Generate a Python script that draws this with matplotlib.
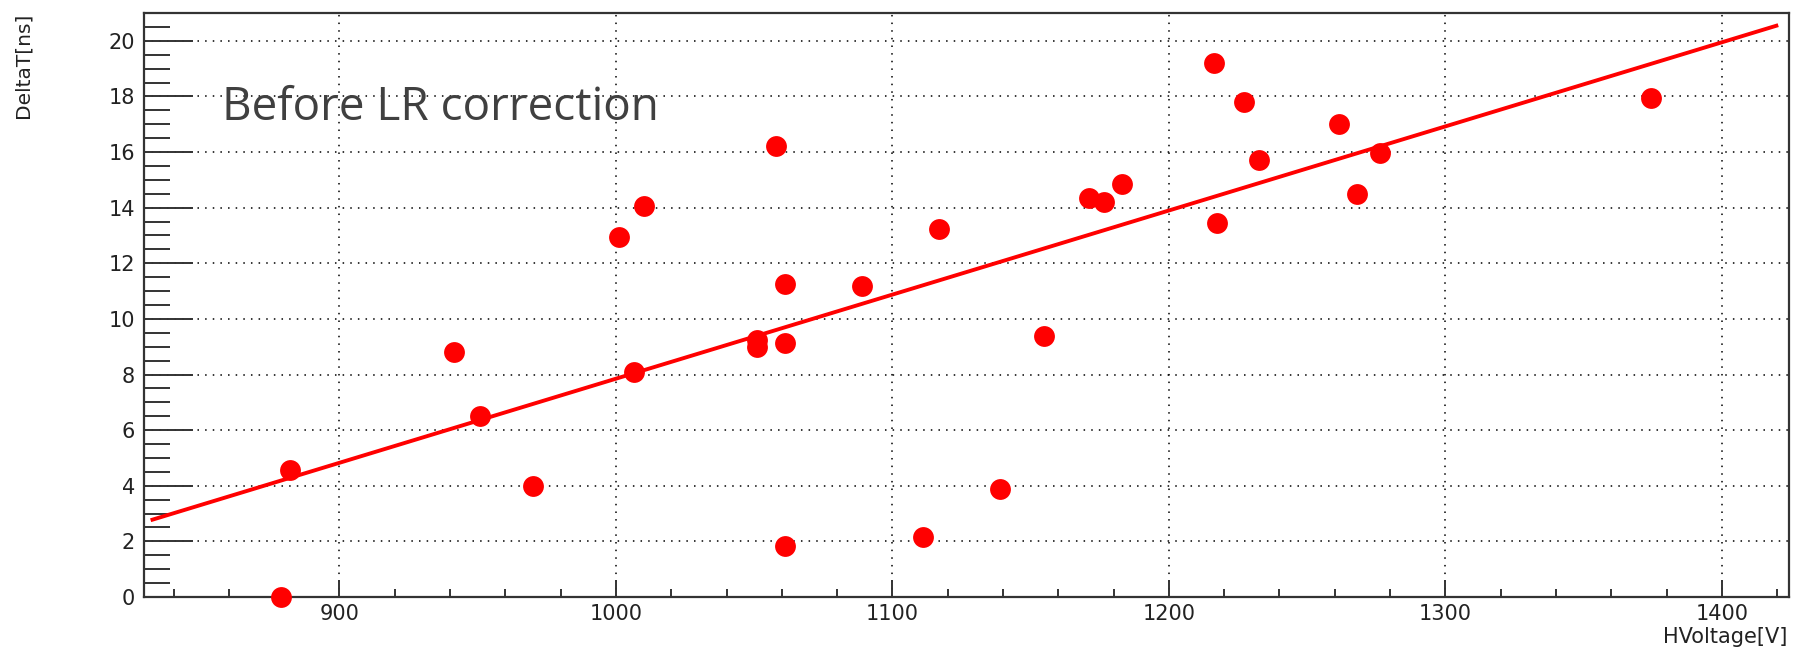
import matplotlib
matplotlib.use("Agg")
import matplotlib.pyplot as plt
from matplotlib.ticker import MultipleLocator
import numpy as np

# High voltage scan: time difference per setting
hv_volts = [879, 882, 941.5, 951, 970, 1001, 1006.5, 1010, 1051, 1051,
            1058, 1061, 1061, 1061, 1089, 1111, 1117, 1139, 1155, 1171,
            1176.5, 1183, 1216.5, 1217.5, 1227, 1232.5, 1261.5, 1268, 1276.5, 1374.5]
delta_t = [0.0, 4.55, 8.8, 6.5, 4.0, 12.95, 8.1, 14.05, 9.25, 9.0,
           16.2, 11.25, 9.15, 1.85, 11.2, 2.15, 13.25, 3.9, 9.4, 14.35,
           14.2, 14.85, 19.2, 13.45, 17.8, 15.7, 17.0, 14.5, 15.95, 17.95]

# Linear fit parameters and the range it is drawn over
fit_slope = 0.03024
fit_intercept = -22.39
fit_range = [831.7, 1420.4]

x_limits = [829.3, 1424.3]
y_limits = [0, 21]
annotation = "Before LR correction"
x_title = "HVoltage[V]"
y_title = "DeltaT[ns]"

W, H, DPI = 1793, 651, 100
fig = plt.figure(figsize=(W / DPI, H / DPI), dpi=DPI)
ax = fig.add_axes([144 / W, 54 / H, 1645 / W, 584 / H])

frame_col = "#333333"
label_col = "#222222"

# grid
ax.set_axisbelow(True)
ax.grid(True, which="major", color="black", linestyle=(0, (1, 4)), linewidth=1.1)

# fit line
fx = np.linspace(fit_range[0], fit_range[1], 400)
ax.plot(fx, fit_slope * fx + fit_intercept, color="#ff0000", linewidth=2.8,
        solid_capstyle="butt", zorder=3)

# data points
ax.plot(hv_volts, delta_t, linestyle="none", marker="o", markersize=15,
        markerfacecolor="#ff0000", markeredgewidth=0, color="#ff0000",
        clip_on=False, zorder=4)

ax.set_xlim(*x_limits)
ax.set_ylim(*y_limits)

ax.xaxis.set_major_locator(MultipleLocator(100))
ax.xaxis.set_minor_locator(MultipleLocator(20))
ax.yaxis.set_major_locator(MultipleLocator(2))
ax.yaxis.set_minor_locator(MultipleLocator(0.5))

tick_font = dict(family="DejaVu Sans", size=15)
ax.tick_params(axis="both", which="both", direction="in", colors=frame_col,
               labelcolor=label_col, top=False, right=False)
ax.tick_params(axis="x", which="major", length=12, width=1.4, pad=5)
ax.tick_params(axis="x", which="minor", length=6, width=1.4)
ax.tick_params(axis="y", which="major", length=35, width=1.4, pad=6.5)
ax.tick_params(axis="y", which="minor", length=18.5, width=1.4)
for lab in ax.get_xticklabels() + ax.get_yticklabels():
    lab.set_fontfamily("DejaVu Sans")
    lab.set_fontsize(15)

for sp in ax.spines.values():
    sp.set_color(frame_col)
    sp.set_linewidth(1.6)

ax.set_xlabel(x_title, loc="right", fontsize=15, family="DejaVu Sans", color=label_col)
ax.xaxis.set_label_coords(0.999, -0.052)
ax.set_ylabel(y_title, loc="top", fontsize=14.5, family="DejaVu Sans", color=label_col)
ax.yaxis.set_label_coords(-0.0675, 1.0)

ax.text(857.6, 17.15, annotation, fontsize=33, family="Open Sans",
        color="#404040", ha="left", va="baseline", zorder=5)

fig.savefig("out.png", dpi=DPI)
